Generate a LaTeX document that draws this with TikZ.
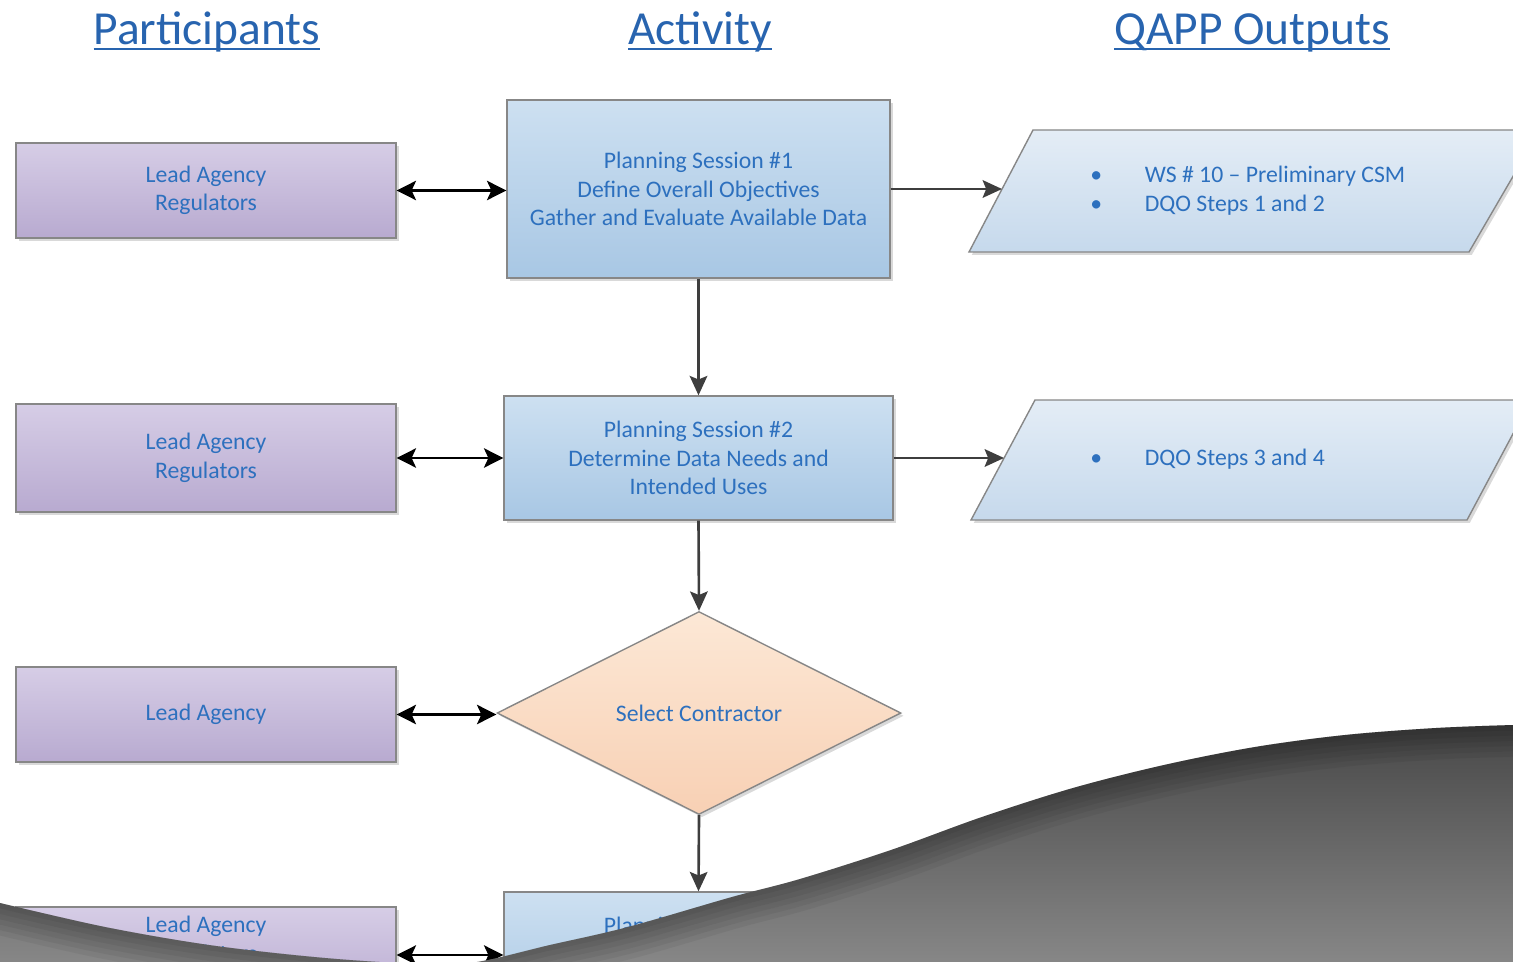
\documentclass[tikz,border=0pt]{standalone}
\usepackage{fontspec}
\setmainfont{Carlito}
\usetikzlibrary{shapes.geometric,shadows,arrows.meta}
\definecolor{txtblue}{RGB}{45,112,190}
\definecolor{hdrblue}{RGB}{40,100,175}
\definecolor{ptop}{RGB}{214,205,230}
\definecolor{pbot}{RGB}{184,170,208}
\definecolor{atop}{RGB}{205,224,241}
\definecolor{abot}{RGB}{168,199,228}
\definecolor{dtop}{RGB}{252,232,214}
\definecolor{dbot}{RGB}{248,208,180}
\definecolor{otop}{RGB}{228,237,246}
\definecolor{obot}{RGB}{198,217,236}
\definecolor{edgegray}{RGB}{135,135,135}
\definecolor{arrgray}{RGB}{62,62,62}
\definecolor{wtop}{RGB}{72,72,72}
\definecolor{wbot}{RGB}{142,142,142}
\newcommand\hdrline[1]{\setbox0=\hbox{#1}\rlap{\color{hdrblue}\rule[-3pt]{\wd0}{1.1pt}}\box0}
\begin{document}
\begin{tikzpicture}[x=0.02cm,y=-0.02cm,
  shadowed/.style={drop shadow={opacity=0.3,shadow xshift=1.6pt,shadow yshift=-1.6pt}},
  basebox/.style={draw=edgegray,line width=0.8pt,shadowed,text=txtblue,
    font=\fontsize{13.5}{16.2}\selectfont,align=center,inner sep=0pt},
  pbox/.style={basebox,rectangle,top color=ptop,bottom color=pbot,minimum width=7.6cm},
  abox/.style={basebox,rectangle,top color=atop,bottom color=abot},
  decbox/.style={basebox,diamond,top color=dtop,bottom color=dbot,minimum width=8.08cm,minimum height=4.06cm},
  lbl/.style={text=txtblue,font=\fontsize{13.5}{16.2}\selectfont,inner sep=0pt},
  hdr/.style={text=hdrblue,font=\fontsize{27}{32}\selectfont,anchor=base,inner sep=0pt},
  dbl/.style={{Stealth[length=11pt,width=11pt,inset=2.5pt]}-{Stealth[length=11pt,width=11pt,inset=2.5pt]},line width=1.6pt,black},
  one/.style={-{Stealth[length=11pt,width=10pt,inset=2pt]},line width=1.5pt,arrgray}]
\useasboundingbox (0,0) rectangle (1513,962);
\clip (0,0) rectangle (1513,962);
% headers
\node[hdr] (h1) at (207,45) {\hdrline{Participants}};
\node[hdr] (h2) at (700,45) {\hdrline{Activity}};
\node[hdr] (h3) at (1252,45) {\hdrline{QAPP Outputs}};
% participants
\node[pbox,minimum height=1.9cm] (p1) at (206,190.5) {Lead Agency\\Regulators};
\node[pbox,minimum height=2.16cm] (p2) at (206,458) {Lead Agency\\Regulators};
\node[pbox,minimum height=1.9cm] (p3) at (206,714.5) {Lead Agency};
\node[pbox,minimum height=1.92cm] (p4) at (206,955) {};
\node[lbl,align=center] (p4t) at (206,941) {Lead Agency\\Regulators};
% activities
\node[abox,minimum width=7.66cm,minimum height=3.56cm] (a1) at (698.5,189) {Planning Session \#1\\Define Overall Objectives\\Gather and Evaluate Available Data};
\node[abox,minimum width=7.78cm,minimum height=2.48cm] (a2) at (698.5,458) {Planning Session \#2\\Determine Data Needs and\\Intended Uses};
\node[decbox] (d) at (699,713) {Select Contractor};
\node[abox,minimum width=7.78cm,minimum height=2.52cm] (a4) at (698.5,955) {};
\node[lbl] (a4t) at (698.5,927) {Planning Session \#3};
% outputs
\shadedraw[top color=otop,bottom color=obot,draw=edgegray,line width=0.8pt,shadowed]
  (1033,130) -- (1540,130) -- (1469,252) -- (969,252) -- cycle;
\coordinate (o1) at (1002,189);
\node[lbl,anchor=west,align=left] (o1t) at (1090,190.5) {\makebox[31pt][l]{•}WS \# 10 – Preliminary CSM\\\makebox[31pt][l]{•}DQO Steps 1 and 2};
\shadedraw[top color=otop,bottom color=obot,draw=edgegray,line width=0.8pt,shadowed]
  (1035,400) -- (1531,400) -- (1467,520) -- (971,520) -- cycle;
\coordinate (o2) at (1004,458);
\node[lbl,anchor=west,align=left] (o2t) at (1090,459) {\makebox[31pt][l]{•}DQO Steps 3 and 4};
% connectors
\draw[dbl] (p1.east) -- (p1.east -| a1.west);
\draw[dbl] (p2.east) -- (a2.west);
\draw[dbl] (p3.east) -- (p3.east -| d.west);
\draw[dbl] (p4.east) -- (a4.west);
\draw[one] (a1.east) -- (o1);
\draw[one] (a2.east) -- (o2);
\draw[one] (a1.south) -- (a2.north);
\draw[one] (a2.south) -- (d.north);
\draw[one] (d.south) -- (a4.north);
% gray wave
\shade[top color=wtop,bottom color=wbot]
  plot[smooth,tension=0.55] coordinates {(0,903) (105,927) (209,945) (314,957) (400,963) (470,963) (550,945) (628,927) (732,897) (800,879) (891,850) (982,817) (1073,788) (1164,765) (1255,747) (1345,735) (1436,728) (1513,725)}
  -- (1540,725) -- (1540,990) -- (-20,990) -- (-20,903) -- cycle;
\begin{scope}
  \clip plot[smooth,tension=0.55] coordinates {(0,903) (105,927) (209,945) (314,957) (400,963) (470,963) (550,945) (628,927) (732,897) (800,879) (891,850) (982,817) (1073,788) (1164,765) (1255,747) (1345,735) (1436,728) (1513,725)}
  -- (1540,725) -- (1540,990) -- (-20,990) -- (-20,903) -- cycle;
  \foreach \w in {6,12,18,24,30,36}
    \draw[black,opacity=0.05,line width=\w pt]
      plot[smooth,tension=0.55] coordinates {(-20,897) (0,903) (105,927) (209,945) (314,957) (400,963) (470,963) (550,945) (628,927) (732,897) (800,879) (891,850) (982,817) (1073,788) (1164,765) (1255,747) (1345,735) (1436,728) (1513,725) (1540,724)};
\end{scope}
\end{tikzpicture}
\end{document}
